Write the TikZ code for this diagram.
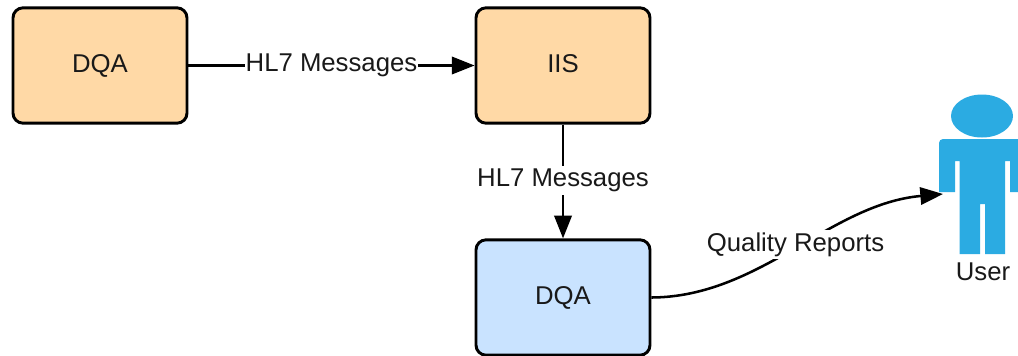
\documentclass[tikz,border=0pt]{standalone}
\usepackage{fontspec}
\setmainfont{Liberation Sans}
\usetikzlibrary{arrows.meta}
\definecolor{boxorange}{HTML}{FFD9A6}
\definecolor{boxblue}{HTML}{C9E3FF}
\definecolor{userblue}{HTML}{2BABE2}
\tikzset{
  box/.style={draw=black,line width=2.2pt,rounded corners=7.5pt,minimum width=130.5pt,minimum height=86.5pt,inner sep=0pt,font=\fontsize{19.3}{23}\selectfont,text=black!90,text height=14pt,text depth=4pt},
  orangebox/.style={box,fill=boxorange},
  bluebox/.style={box,fill=boxblue},
  link/.style={draw=black,line width=1.9pt,-{Triangle[length=17pt,width=13pt]}},
  lbl/.style={fill=white,inner xsep=0.5pt,inner ysep=2pt,font=\fontsize{19.3}{23}\selectfont,text=black!90},
  figure/.style={fill=userblue,draw=none}
}
\begin{document}
\begin{tikzpicture}[x=0.75pt,y=-0.75pt]
\useasboundingbox (0,0) rectangle (1018,355);
\clip (0,0) rectangle (1018,355);
\node[orangebox] (dqa1) at (100,65.5) {DQA};
\node[orangebox] (iis) at (563,65.5) {IIS};
\node[bluebox] (dqa2) at (563,297.5) {DQA};
% user figure
\fill[figure] (982,116) ellipse [x radius=31,y radius=21.5];
\fill[figure] (939,192) -- (939,143) .. controls (939,140.8) and (940.8,139) .. (943,139) -- (1030,139) -- (1030,192) -- (1010,192) -- (1010,161) -- (1005,161) -- (1005,254) -- (985,254) -- (985,204) -- (980,204) -- (980,254) -- (959.5,254) -- (959.5,161) -- (955,161) -- (955,192) -- cycle;
\node[font=\fontsize{19.3}{23}\selectfont,text=black!90,inner sep=0pt] (userlabel) at (983,272) {User};
\coordinate (userin) at (943,194);
\draw[link] (dqa1.east) -- node[lbl] {HL7 Messages} (iis.west);
\draw[link] (iis.south) -- node[lbl,pos=0.49] {HL7 Messages} (dqa2.north);
\draw[link] (dqa2.east) .. controls (760,297) and (830,204) .. node[lbl,pos=0.5,yshift=3.5pt] {Quality Reports} (userin);
\end{tikzpicture}
\end{document}
